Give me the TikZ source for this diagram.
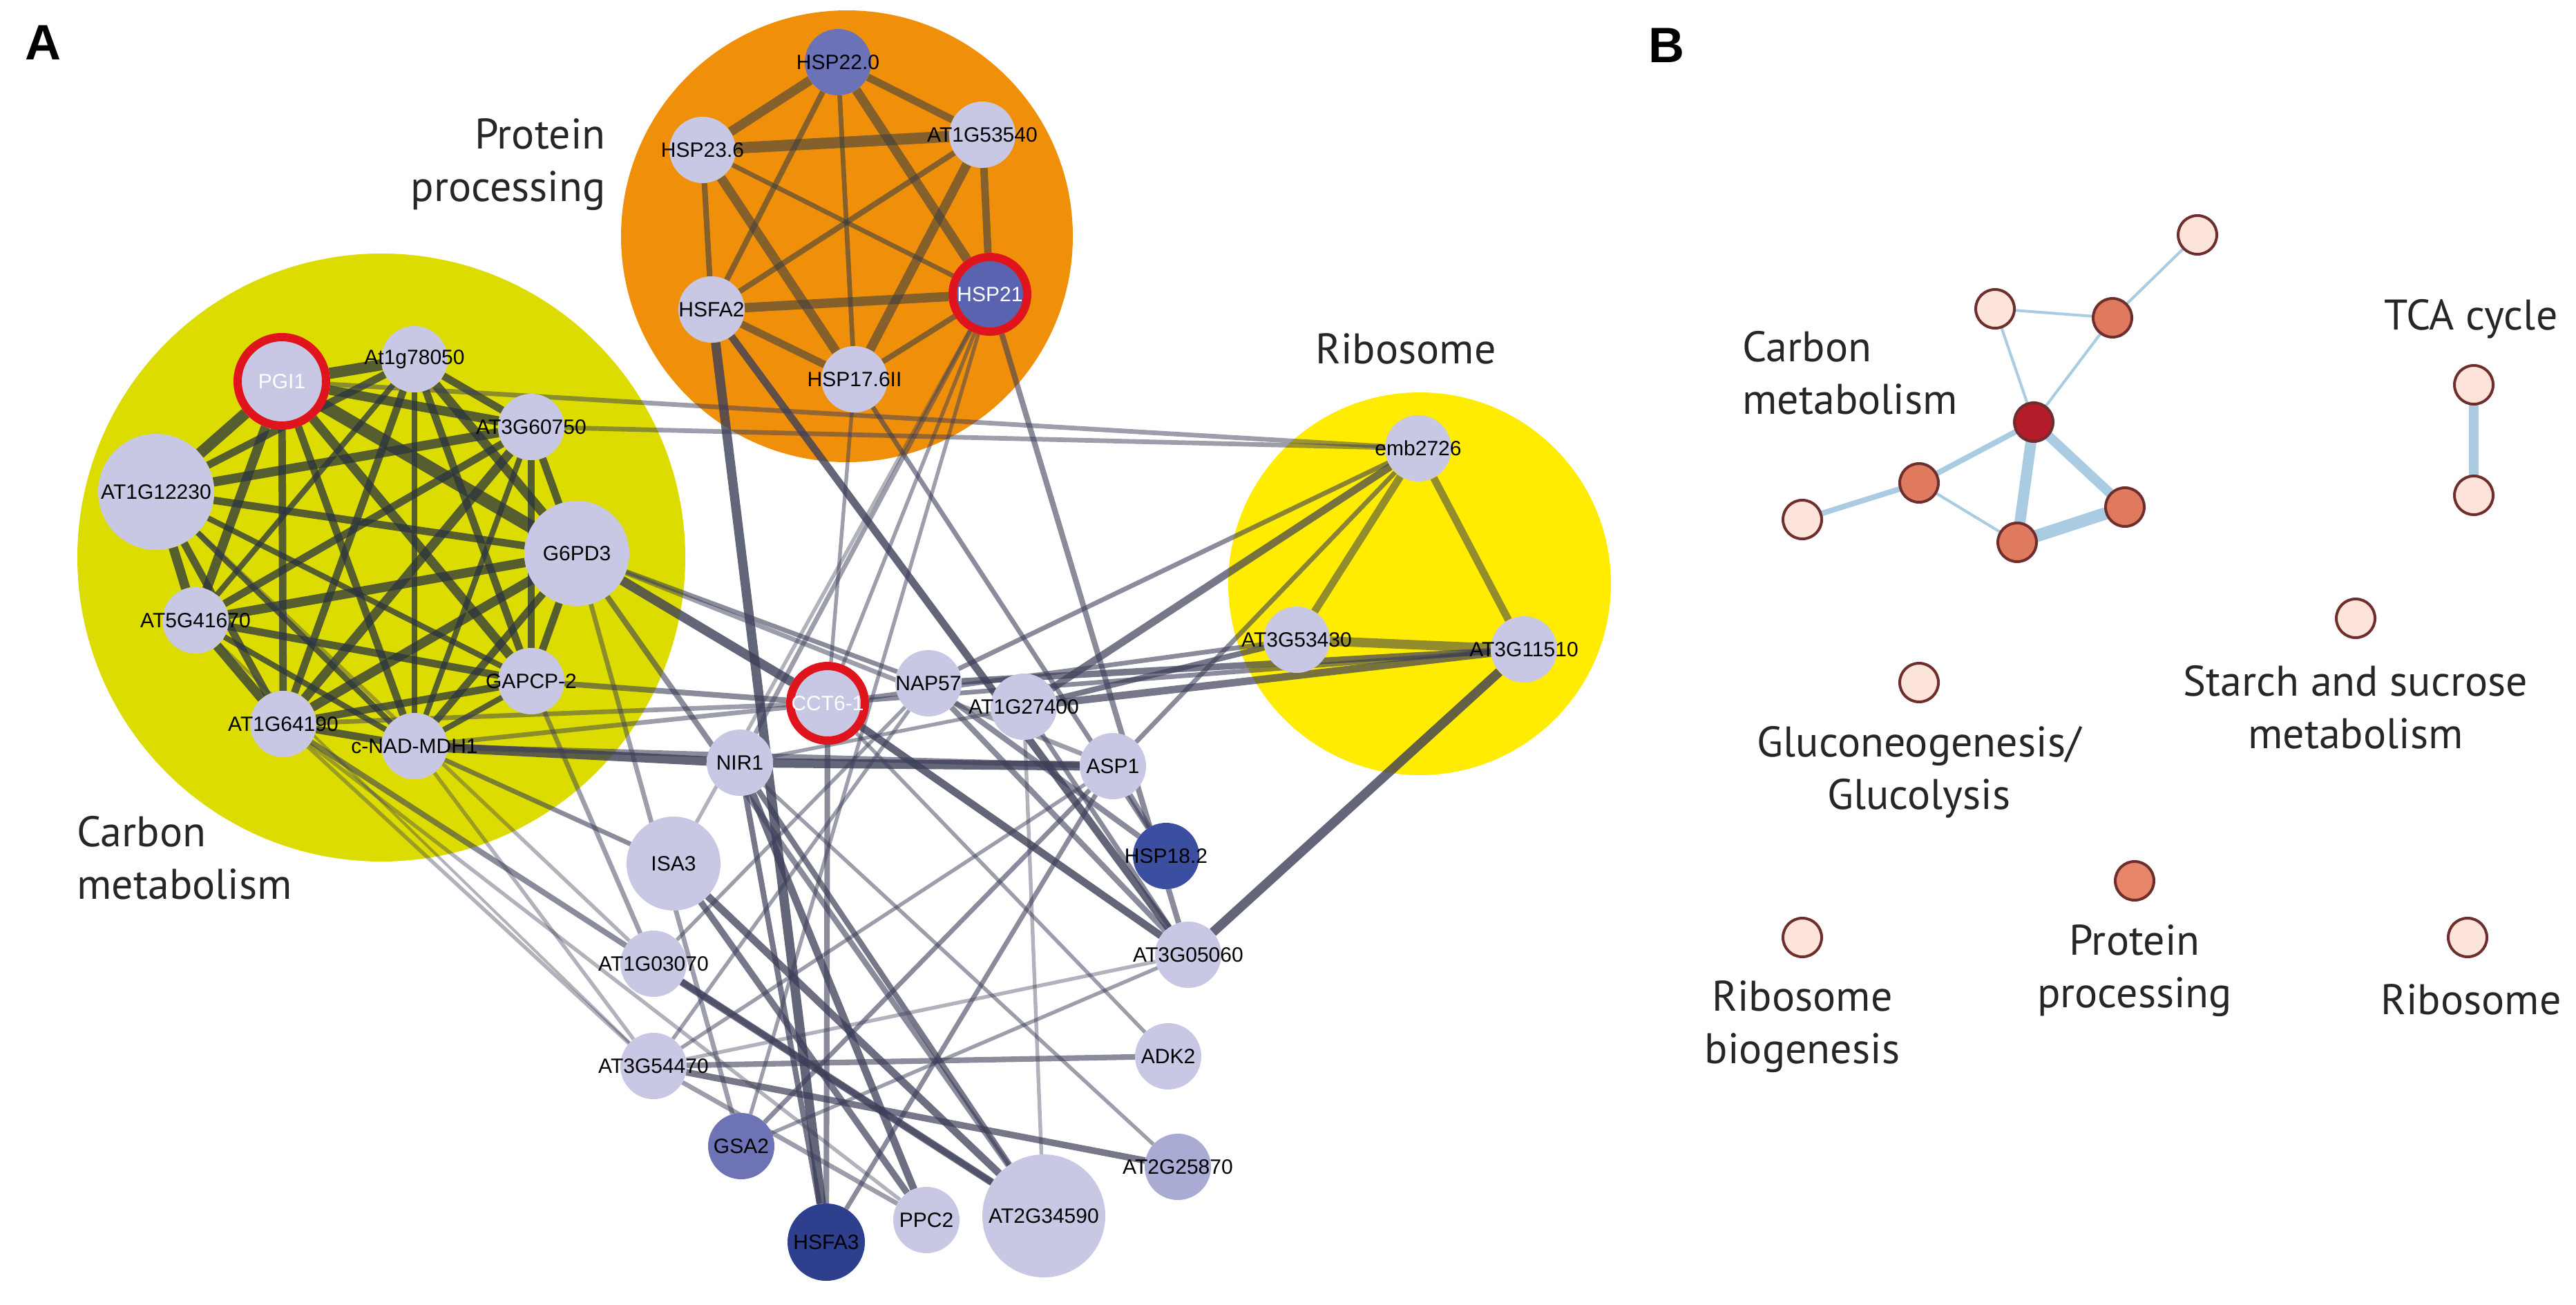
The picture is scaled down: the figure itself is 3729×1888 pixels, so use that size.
\documentclass[tikz,border=0pt]{standalone}
\usepackage{fontspec}
\setmainfont{Liberation Sans}
\newfontfamily\tfont{PT Sans}
\pgfdeclarelayer{bg}\pgfdeclarelayer{edges}
\pgfsetlayers{bg,edges,main}
\definecolor{nl}{HTML}{C8C8E4}
\definecolor{ring}{HTML}{E0141C}
\definecolor{ce}{HTML}{2A3440}
\definecolor{oe}{HTML}{3C3E58}
\definecolor{be}{HTML}{A9CCE2}
\definecolor{bl}{HTML}{FDE4DA}
\definecolor{bm}{HTML}{E07A5E}
\definecolor{bd}{HTML}{B51C2A}
\definecolor{bb}{HTML}{6E2E2E}
\newcommand{\zw}[1]{\makebox[0pt]{#1}}
\tikzset{
 g/.style={circle,fill=nl,inner sep=0pt,minimum size=96pt,font=\fontsize{30}{30}\selectfont},
 rg/.style={g,draw=ring,line width=12pt},
 tl/.style={font=\tfont\fontsize{62}{76}\selectfont,align=center,text=black!85},
 bn/.style={circle,draw=bb,line width=4pt,inner sep=0pt,minimum size=56pt},
 be/.style={draw=be,line cap=round},
}
\begin{document}
\begin{tikzpicture}[x=1pt,y=-1pt]
\useasboundingbox (0,0) rectangle (3729,1888);
\begin{pgfonlayer}{bg}
\fill[fill={rgb,255:red,220;green,220;blue,0}] (552,807) circle (440);
\fill[fill={rgb,255:red,240;green,144;blue,10}] (1226,342) circle (327);
\fill[fill={rgb,255:red,255;green,236;blue,0}] (2055,845) circle (277);
\end{pgfonlayer}
\node[font=\bfseries\fontsize{72}{72}\selectfont] (LA) at (62,62) {A};
\node[font=\bfseries\fontsize{72}{72}\selectfont] (LB) at (2412,66) {B};
\node[tl,align=right,anchor=east] (tp) at (880,238) {Protein\\processing};
\node[tl] (tr) at (2035,505) {Ribosome};
\node[tl,align=left,anchor=north west] (tc) at (108,1178) {Carbon\\metabolism};
% carbon
\node[rg,minimum size=128pt,text=white] (PGI) at (408,552) {\zw{PGI1}};
\node[g] (A78) at (600,520) {\zw{At1g78050}};
\node[g] (A60) at (769,618) {\zw{AT3G60750}};
\node[g,minimum size=168pt] (A12) at (226,712) {\zw{AT1G12230}};
\node[g,minimum size=152pt] (G6) at (835,801) {\zw{G6PD3}};
\node[g] (A41) at (283,898) {\zw{AT5G41670}};
\node[g] (GAP) at (769,986) {\zw{GAPCP-2}};
\node[g] (A64) at (410,1048) {\zw{AT1G64190}};
\node[g] (MDH) at (600,1080) {\zw{c-NAD-MDH1}};
% protein
\node[g,fill={rgb,255:red,108;green,114;blue,184}] (H22) at (1213,90) {\zw{HSP22.0}};
\node[g] (H23) at (1017,217) {\zw{HSP23.6}};
\node[g] (A53) at (1422,195) {\zw{AT1G53540}};
\node[g] (HA2) at (1030,448) {\zw{HSFA2}};
\node[rg,minimum size=108pt,fill={rgb,255:red,90;green,99;blue,176},text=white] (H21) at (1433,426) {\zw{HSP21}};
\node[g] (H17) at (1237,549) {\zw{HSP17.6II}};
% ribosome
\node[g] (emb) at (2053,649) {\zw{emb2726}};
\node[g] (A34) at (1877,926) {\zw{AT3G53430}};
\node[g] (A11) at (2206,940) {\zw{AT3G11510}};
% others
\node[rg,minimum size=108pt,text=white] (CCT) at (1198,1018) {\zw{CCT6-1}};
\node[g] (NAP) at (1344,989) {\zw{NAP57}};
\node[g] (A27) at (1482,1023) {\zw{AT1G27400}};
\node[g] (NIR) at (1071,1104) {\zw{NIR1}};
\node[g] (ASP) at (1611,1109) {\zw{ASP1}};
\node[g,fill={rgb,255:red,60;green,78;blue,160}] (H18) at (1688,1239) {\zw{HSP18.2}};
\node[g,minimum size=136pt] (ISA) at (975,1250) {\zw{ISA3}};
\node[g] (A03) at (946,1395) {\zw{AT1G03070}};
\node[g] (A05) at (1720,1382) {\zw{AT3G05060}};
\node[g] (ADK) at (1691,1529) {\zw{ADK2}};
\node[g] (A54) at (946,1543) {\zw{AT3G54470}};
\node[g,fill={rgb,255:red,110;green,115;blue,182}] (GSA) at (1073,1659) {\zw{GSA2}};
\node[g,fill={rgb,255:red,170;green,171;blue,212}] (A25) at (1705,1689) {\zw{AT2G25870}};
\node[g,minimum size=112pt,fill={rgb,255:red,46;green,63;blue,142}] (HA3) at (1196,1798) {\zw{HSFA3}};
\node[g] (PPC) at (1341,1766) {\zw{PPC2}};
\node[g,minimum size=178pt] (A59) at (1511,1760) {\zw{AT2G34590}};
\begin{pgfonlayer}{edges}
\foreach \a/\b/\w in {PGI/A78/12,PGI/A60/10,PGI/A12/12,PGI/G6/14,PGI/A41/10,PGI/GAP/10,PGI/A64/8,PGI/MDH/8,
A78/A60/8,A78/A12/8,A78/G6/10,A78/A41/6,A78/GAP/8,A78/A64/8,A78/MDH/6,
A60/A12/10,A60/G6/8,A60/A41/8,A60/GAP/8,A60/A64/10,A60/MDH/6,
A12/G6/8,A12/A41/10,A12/GAP/6,A12/A64/8,A12/MDH/6,
G6/A41/10,G6/GAP/8,G6/A64/10,G6/MDH/8,
A41/GAP/8,A41/A64/10,A41/MDH/6,GAP/A64/8,GAP/MDH/6,A64/MDH/8}
 \draw[ce,opacity=.75,line width=1.35*\w pt] (\a) -- (\b);
\foreach \a/\b/\w in {H22/H23/10,H22/A53/8,H22/HA2/6,H22/H21/10,H22/H17/5,
H23/A53/12,H23/HA2/6,H23/H21/5,H23/H17/10,
A53/HA2/6,A53/H21/8,A53/H17/10,HA2/H21/10,HA2/H17/8,H21/H17/6}
 \draw[black!75,opacity=.6,line width=1.35*\w pt] (\a) -- (\b);
\foreach \a/\b/\w in {emb/A34/8,emb/A11/8,A34/A11/10}
 \draw[black!70,opacity=.6,line width=1.35*\w pt] (\a) -- (\b);
\foreach \a/\b/\w/\o in {PGI/emb/5/.5,A60/emb/5/.5,G6/CCT/10/.8,G6/NAP/5/.6,G6/ASP/5/.5,
HA2/HA3/10/.8,HA2/A05/8/.8,H17/CCT/4/.5,H17/H18/5/.6,H21/CCT/4/.5,H21/NIR/5/.5,H21/A05/6/.6,H21/GSA/4/.5,
A11/A05/10/.8,emb/A27/8/.7,emb/NAP/5/.6,emb/ASP/5/.6,A34/CCT/5/.6,A34/A27/6/.7,A11/NAP/7/.7,A11/A27/8/.7,A11/CCT/5/.6,
NIR/ASP/10/.8,NIR/A59/6/.7,NIR/PPC/8/.75,CCT/A05/8/.8,CCT/HA3/6/.6,CCT/A64/5/.5,CCT/GAP/6/.6,CCT/MDH/5/.5,
NAP/A05/6/.6,NAP/H18/6/.6,NAP/A54/4/.5,A27/A59/4/.4,A27/A05/5/.6,ASP/H18/6/.6,ASP/GSA/5/.6,ASP/A54/4/.5,ASP/HA3/5/.6,
ISA/PPC/7/.7,ISA/A59/8/.75,ISA/MDH/5/.6,A03/A59/8/.75,A03/A12/4/.4,A03/GAP/5/.5,
A54/ADK/6/.6,A54/A25/7/.7,A54/A05/4/.4,A54/PPC/5/.5,A54/MDH/4/.4,A54/A64/4/.4,A54/A41/3/.4,
GSA/G6/5/.5,HA3/NIR/6/.7,A25/NIR/4/.5,ADK/CCT/4/.5,MDH/NIR/10/.8,MDH/ASP/6/.6,A64/A59/6/.6,
A59/G6/6/.6,PPC/A64/4/.4,A05/GSA/4/.5,NIR/A27/4/.5,A03/NAP/4/.5,ISA/H21/4/.4}
 \draw[oe,opacity=\o,line width=1.35*\w pt] (\a) -- (\b);
\end{pgfonlayer}
% panel B
\node[bn,fill=bl] (b1) at (3181,340) {};
\node[bn,fill=bl] (b2) at (2888,447) {};
\node[bn,fill=bm] (b3) at (3058,460) {};
\node[bn,fill=bd] (b4) at (2944,611) {};
\node[bn,fill=bm] (b5) at (2778,699) {};
\node[bn,fill=bl] (b6) at (2609,752) {};
\node[bn,fill=bm] (b7) at (2920,785) {};
\node[bn,fill=bm] (b8) at (3076,734) {};
\node[bn,fill=bl] (t1) at (3581,557) {};
\node[bn,fill=bl] (t2) at (3581,717) {};
\node[bn,fill=bl] (st) at (3410,895) {};
\node[bn,fill=bl] (gl) at (2778,988) {};
\node[bn,fill={rgb,255:red,232;green,134;blue,106}] (pp) at (3090,1275) {};
\node[bn,fill=bl] (rb) at (2609,1357) {};
\node[bn,fill=bl] (ri) at (3572,1357) {};
\begin{pgfonlayer}{edges}
\foreach \a/\b/\w in {b1/b3/4,b2/b3/4,b2/b4/4,b3/b4/4,b4/b5/8,b5/b6/8,b5/b7/4,b4/b7/16,b4/b8/14,b7/b8/18,t1/t2/14}
 \draw[be,line width=\w pt] (\a) -- (\b);
\end{pgfonlayer}
\node[tl,align=left,anchor=west] (bc) at (2519,540) {Carbon\\metabolism};
\node[tl] (btca) at (3577,462) {TCA cycle};
\node[tl] (bst) at (3410,1024) {Starch and sucrose\\metabolism};
\node[tl] (bgl) at (2778,1118) {Gluconeogenesis/\\Glucolysis};
\node[tl] (bpp) at (3090,1405) {Protein\\processing};
\node[tl] (brb) at (2609,1486) {Ribosome\\biogenesis};
\node[tl] (bri) at (3577,1447) {Ribosome};
\end{tikzpicture}
\end{document}
